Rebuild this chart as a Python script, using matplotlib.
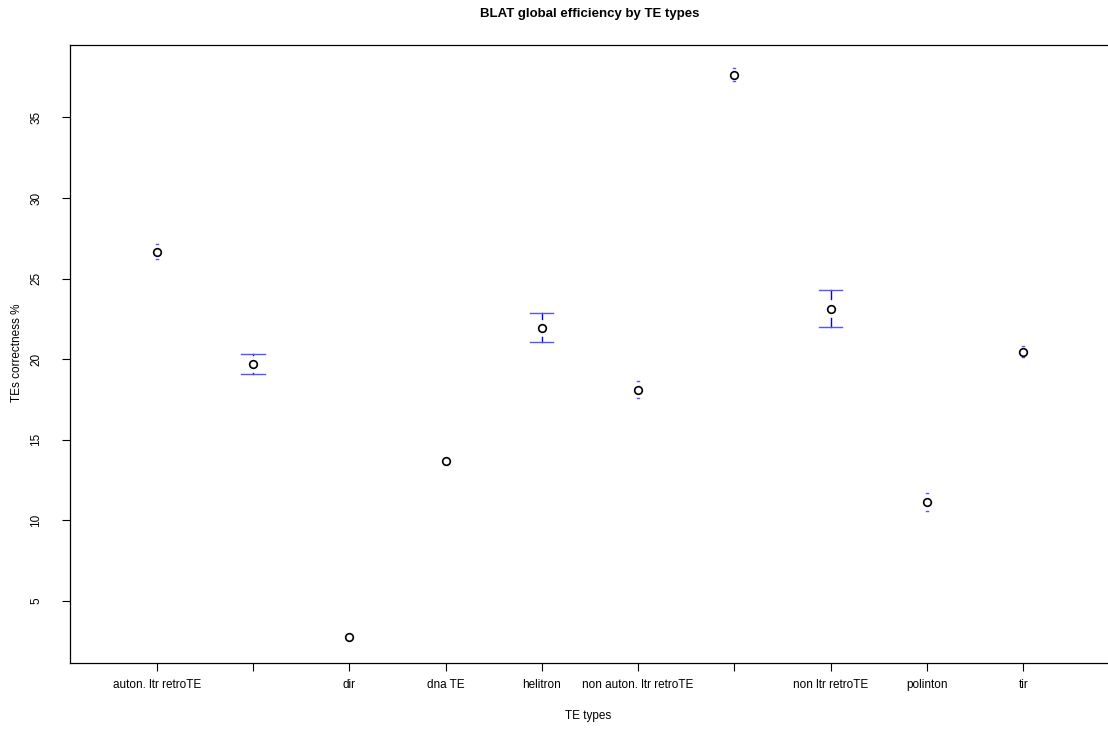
import matplotlib
matplotlib.use("Agg")
import matplotlib.pyplot as plt
import numpy as np

plt.rcParams['font.family'] = ['Liberation Sans', 'DejaVu Sans']

# TE type labels (some are suppressed on the axis because they overlap)
te_labels = ["auton. ltr retroTE", "", "dir", "dna TE", "helitron",
             "non auton. ltr retroTE", "", "non ltr retroTE", "polinton", "tir"]
mean_pct = [26.68, 19.70, 2.76, 13.70, 21.94, 18.12, 37.65, 23.14, 11.17, 20.48]
err_pct = [0.47, 0.60, 0.17, 0.20, 0.90, 0.55, 0.41, 1.13, 0.56, 0.36]

x = np.arange(1, len(mean_pct) + 1)
gap = 0.57  # stem starts this far from the point (data units)

fig = plt.figure(figsize=(11.08, 7.29), dpi=100)
ax = fig.add_axes([70 / 1108, 1 - 662.7 / 729, 1040 / 1108, (662.7 - 45.3) / 729])

for xi, m, e in zip(x, mean_pct, err_pct):
    if e > gap:
        cap = 0.12
        ax.plot([xi, xi], [m + gap, m + e], color='blue', lw=1)
        ax.plot([xi, xi], [m - gap, m - e], color='blue', lw=1)
    else:
        cap = 0.01
    ax.plot([xi - cap, xi + cap], [m + e, m + e], color='#5555ff', lw=1)
    ax.plot([xi - cap, xi + cap], [m - e, m - e], color='#5555ff', lw=1)

ax.plot(x, mean_pct, 'o', mfc='white', mec='black', ms=5.5, mew=1.2, ls='none')

lo = min(m - e for m, e in zip(mean_pct, err_pct))
hi = max(m + e for m, e in zip(mean_pct, err_pct))
pad = 0.04 * (hi - lo)
ax.set_ylim(lo - pad, hi + pad)
ax.set_xlim(0.1, 10.9)

ax.set_yticks([5, 10, 15, 20, 25, 30, 35])
ax.set_yticklabels(["5", "10", "15", "20", "25", "30", "35"], rotation=90, va='center', fontsize=8.5)
ax.set_xticks(x)
ax.set_xticklabels(te_labels, fontsize=8.5)
ax.tick_params(axis='both', length=6, width=0.8)
ax.tick_params(axis='x', pad=6)
ax.tick_params(axis='y', pad=14)

for s in ax.spines.values():
    s.set_linewidth(0.9)

fig.text(588 / 1108, 1 - 716 / 729, "TE types", ha='center', va='center', fontsize=8.5)
fig.text(17 / 1108, 1 - 353 / 729, "TEs correctness %", ha='center', va='center',
         rotation=90, fontsize=8.5)
fig.text(590 / 1108, 1 - 14 / 729, "BLAT global efficiency by TE types",
         ha='center', va='center', fontsize=9.5, fontweight='bold')

fig.savefig("out.png", dpi=100)
